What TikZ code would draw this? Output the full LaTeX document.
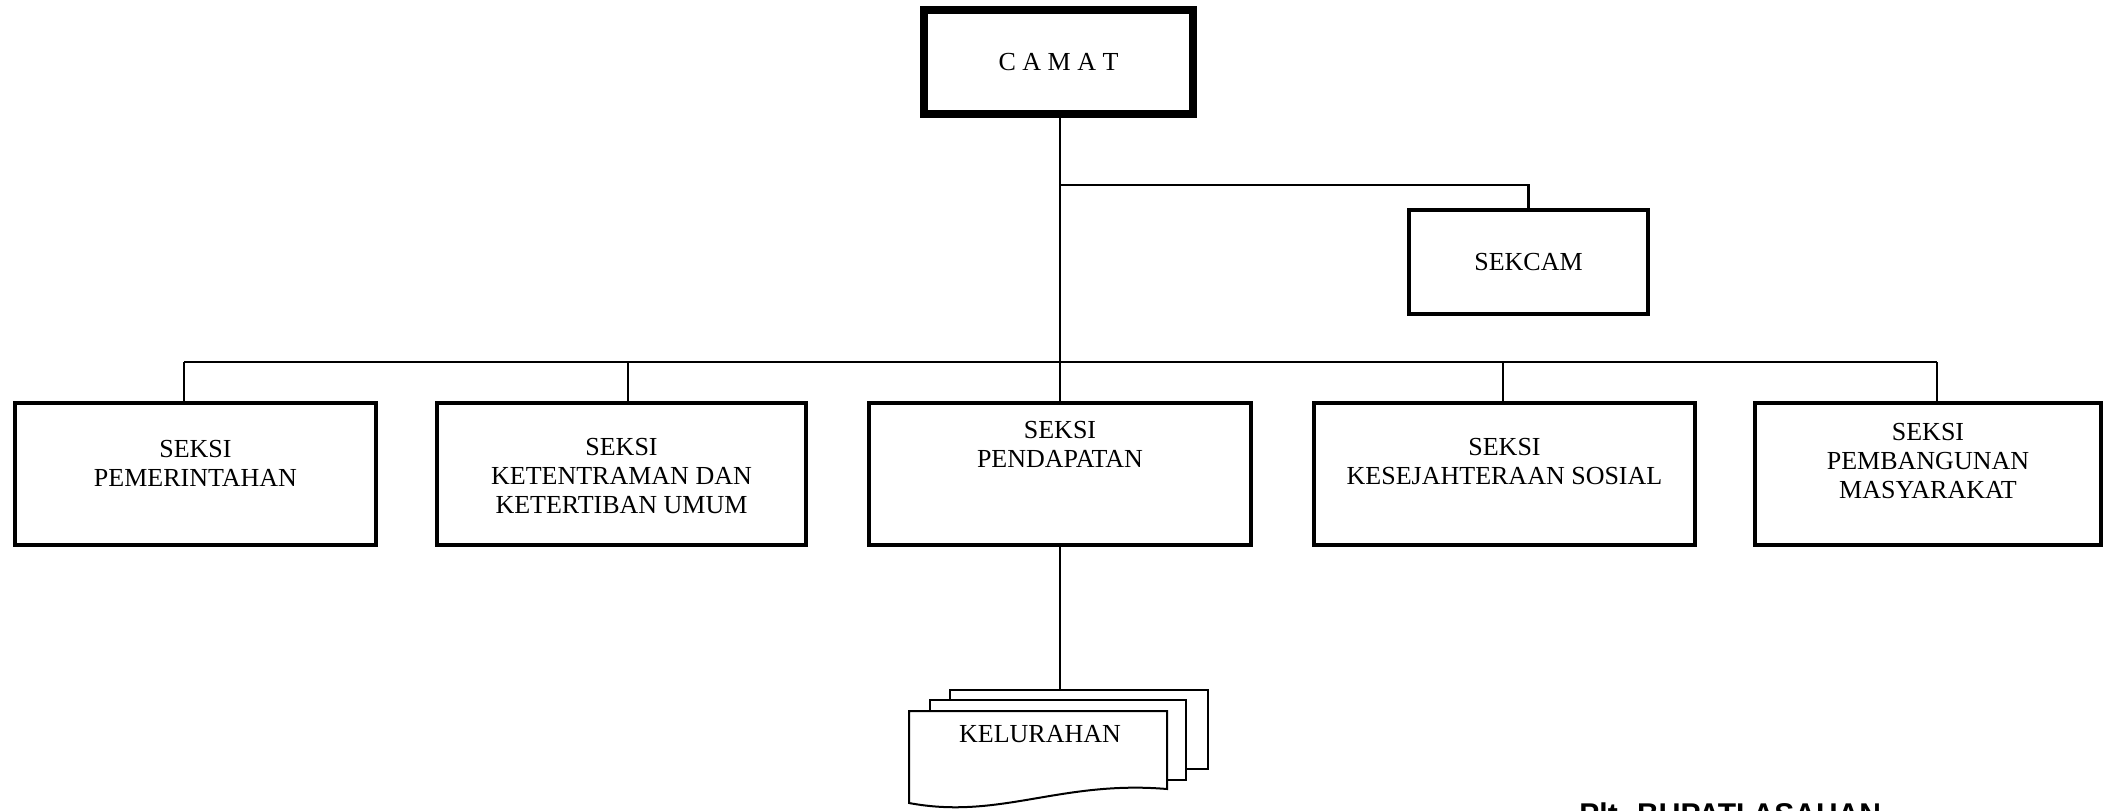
\documentclass[tikz,border=0pt]{standalone}
\usepackage{fontspec}
\setmainfont{Liberation Serif}
\newfontfamily\signfont{Liberation Sans}
\usetikzlibrary{positioning}
\tikzstyle{camatbox} = [
	rectangle,
	draw=black,
	line width=4pt,
	minimum width=134.5pt,
	minimum height=52pt,
	font=\fontsize{13}{14.5}\selectfont
]
\tikzstyle{seksi} = [
	rectangle,
	draw=black,
	line width=2pt,
	minimum height=71pt,
	inner sep=0pt
]
\tikzstyle{seksitext} = [anchor=north, inner sep=0pt, align=center, font=\fontsize{13}{14.5}\selectfont]
\tikzstyle{page} = [rectangle, draw=black, fill=white, line width=1pt]
\tikzstyle{line} = [line width=1.2pt]

\begin{document}
\begin{tikzpicture}[x=0.5pt, y=-0.5pt]
            \useasboundingbox (0,0) rectangle (2104,810);
            \node (camat) [camatbox] at (1058.5,62) {C A M A T};
            \node (sekcam) [seksi, minimum width=119.5pt, minimum height=52pt, font=\fontsize{13}{14.5}\selectfont] at (1528.5,262) {SEKCAM};
            \node (pem) [seksi, minimum width=180.5pt] at (195.5,474) {};
            \node (ket) [seksi, minimum width=184.5pt] at (621.5,474) {};
            \node (pen) [seksi, minimum width=191pt] at (1060,474) {};
            \node (kes) [seksi, minimum width=190.5pt] at (1504.5,474) {};
            \node (pmb) [seksi, minimum width=173pt] at (1928,474) {};
            \node (pemtext) [seksitext, below=19.5pt of pem.north] {SEKSI\\PEMERINTAHAN};
            \node (kettext) [seksitext, below=18.5pt of ket.north] {SEKSI\\KETENTRAMAN DAN\\KETERTIBAN UMUM};
            \node (pentext) [seksitext, below=10pt of pen.north] {SEKSI\\PENDAPATAN};
            \node (kestext) [seksitext, below=18.5pt of kes.north] {SEKSI\\KESEJAHTERAAN SOSIAL};
            \node (pmbtext) [seksitext, below=11pt of pmb.north] {SEKSI\\PEMBANGUNAN\\MASYARAKAT};
            % kelurahan stack
            \node (kel3) [page, minimum width=129pt, minimum height=39.5pt] at (1079,729.5) {};
            \node (kel2) [page, minimum width=128pt, minimum height=40pt] at (1058,740) {};
            \draw [line width=1pt, fill=white] (909,711) -- (1167,711) -- (1167,789)
                .. controls (1060,780) and (1000,820) .. (909,803) -- cycle;
            \node (kel) [seksitext] at (1040,725) {KELURAHAN};
            % connectors
            \coordinate (sekbranch) at (1060,185);
            \coordinate (drop-pem) at (184,362);
            \coordinate (drop-ket) at (628,362);
            \coordinate (drop-kes) at (1503,362);
            \coordinate (drop-pmb) at (1937,362);
            \draw [line] (pen.north |- camat.south) -- (pen.north);
            \draw [line] (sekbranch) -| (sekcam.north);
            \draw [line] (drop-pem) -- (drop-pmb);
            \foreach \n in {pem,ket,kes,pmb}
                \draw [line] (drop-\n) -- (drop-\n |- \n.north);
            \draw [line] (pen.south) -- (pen.south |- kel3.north);
            \begin{scope}
                \clip (0,0) rectangle (2104,810);
                \node (bupati) [anchor=base west, inner sep=0pt, font=\signfont\bfseries\fontsize{15}{18}\selectfont] at (1579,824.5) {Plt. BUPATI ASAHAN};
            \end{scope}
          \end{tikzpicture}
\end{document}
